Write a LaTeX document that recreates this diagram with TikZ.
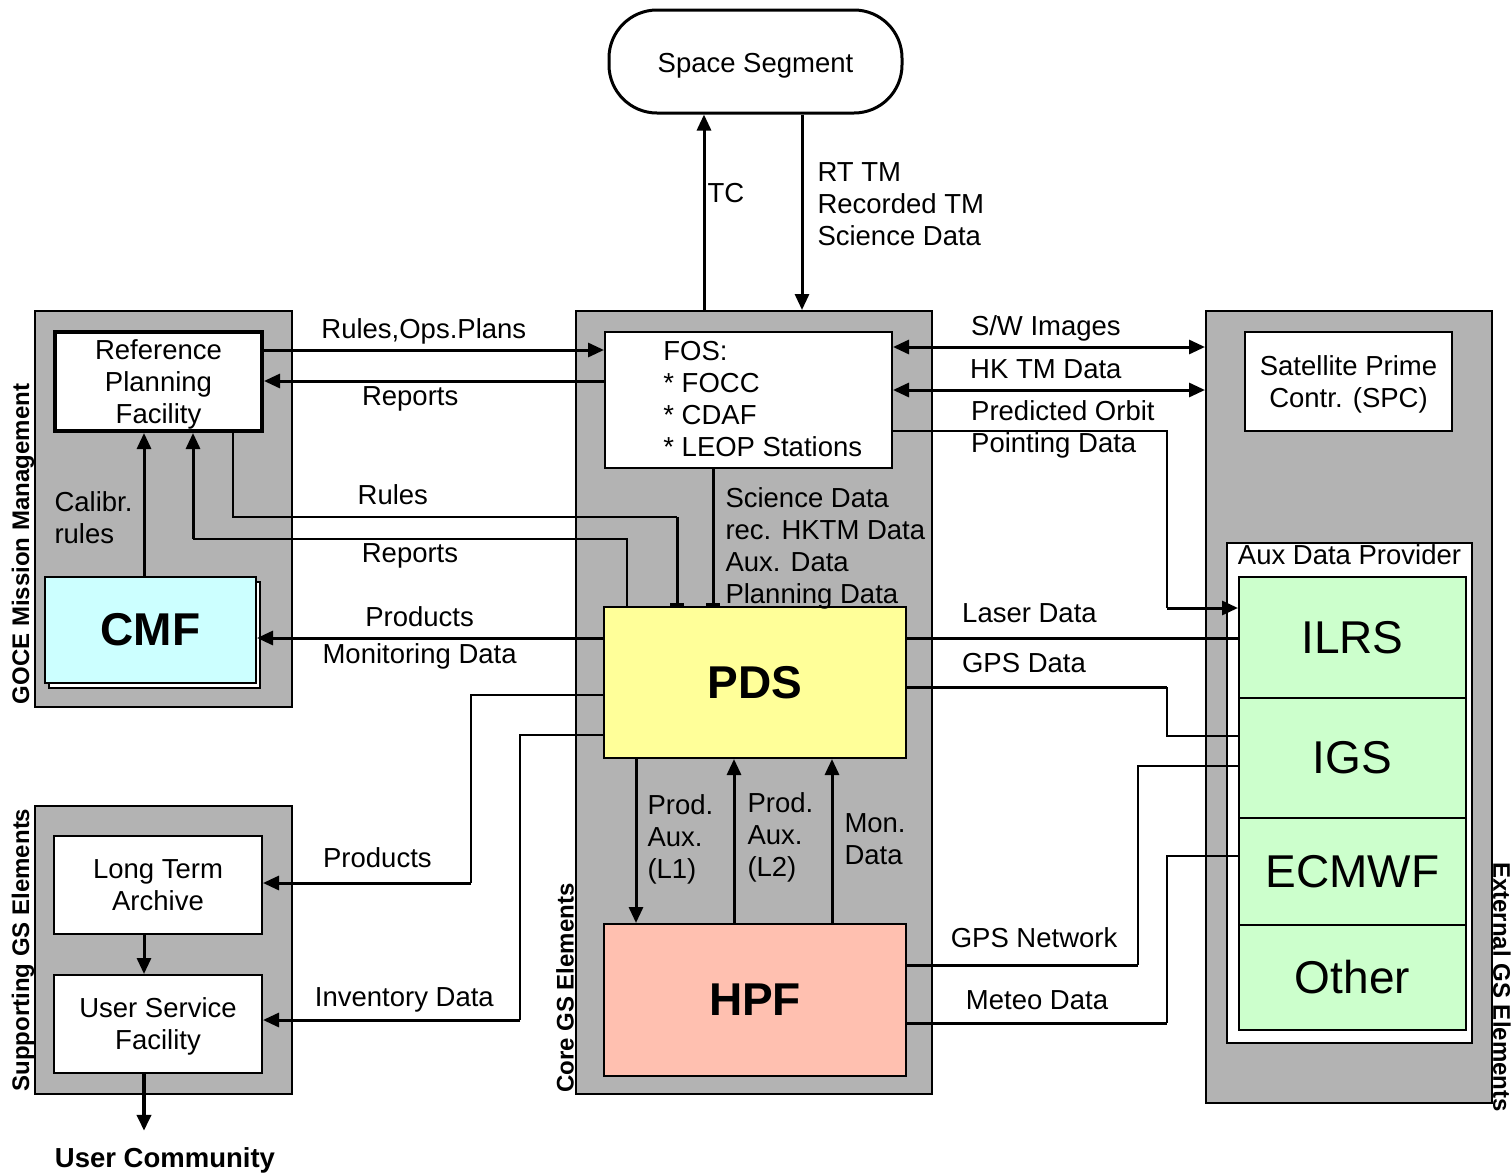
\documentclass[tikz,border=0pt]{standalone}
\usepackage{fontspec}
\setmainfont{Liberation Sans}
\usetikzlibrary{arrows.meta,shadows}
\definecolor{gsgray}{RGB}{179,179,179}
\definecolor{cmfcyan}{RGB}{204,255,255}
\definecolor{pdsyellow}{RGB}{255,255,153}
\definecolor{hpfsalmon}{RGB}{255,192,176}
\definecolor{auxgreen}{RGB}{204,255,204}
\begin{document}
\begin{tikzpicture}[x=0.5pt, y=-0.5pt, >={Triangle[length=8pt,width=7pt]},
  font=\fontsize{13.75}{16}\selectfont,
  group/.style={draw, fill=gsgray, line width=1pt, inner sep=0pt},
  group label/.style={font=\fontsize{12}{14}\selectfont\bfseries, inner sep=0pt},
  box/.style={draw, fill=white, line width=1pt, inner sep=0pt, align=center},
  big node/.style={box, font=\fontsize{23}{27}\selectfont\bfseries},
  cell/.style={draw, fill=auxgreen, line width=1pt, inner sep=0pt, minimum width=113.5pt, font=\fontsize{23}{27}\selectfont},
  flow/.style={line width=1.5pt},
  thin flow/.style={line width=0.75pt},
  lbl/.style={inner sep=1pt, align=left, text depth=4pt}]
\useasboundingbox (0,0) rectangle (1512,1173);
% groups
\node[group, minimum width=128.5pt, minimum height=198pt] (goce) at (163.5,509) {};
\node[group, minimum width=128.5pt, minimum height=144pt] (supp) at (163.5,950) {};
\node[group, minimum width=178pt, minimum height=391.5pt] (core) at (754,702.5) {};
\node[group, minimum width=143pt, minimum height=396pt] (ext) at (1349,707) {};
\node[group label, rotate=90] (gocelbl) at (23,544) {GOCE Mission Management};
\node[group label, rotate=90] (supplbl) at (23,950) {Supporting GS Elements};
\node[group label, rotate=90] (corelbl) at (565,988) {Core GS Elements};
\node[group label, rotate=-90] (extlbl) at (1502,987) {External GS Elements};
% boxes
\node[box, rounded corners=24pt, line width=1.5pt, minimum width=146.5pt, minimum height=51.5pt, text height=14pt] (space) at (755.5,61.5) {Space Segment};
\node[box, line width=2pt, minimum width=103.5pt, minimum height=49.5pt, text depth=0pt] (rpf) at (158.5,381.5) {Reference\\Planning\\Facility};
\node[big node, fill=cmfcyan, minimum width=105.5pt, minimum height=53pt,
  copy shadow={shadow xshift=2pt, shadow yshift=-2.5pt, fill=white, draw=black}] (cmf) at (150.5,630) {CMF};
\node[box, minimum width=143.5pt, minimum height=68pt] (fos) at (748.5,400) {};
\node[lbl, anchor=west, inner sep=0pt, text depth=] (fostext) at (663,399) {FOS:\\* FOCC\\* CDAF\\* LEOP Stations};
\node[big node, fill=pdsyellow, minimum width=151pt, minimum height=75.5pt] (pds) at (755,682.5) {PDS};
\node[big node, fill=hpfsalmon, minimum width=151pt, minimum height=76pt] (hpf) at (755,1000) {HPF};
\node[box, minimum width=104pt, minimum height=49pt] (lta) at (158,885) {Long Term\\Archive};
\node[box, minimum width=104pt, minimum height=49pt, text depth=0pt] (usf) at (158,1024) {User Service\\Facility};
\node[font=\fontsize{13.75}{16}\selectfont\bfseries, inner sep=1pt] (ucomm) at (165,1160) {User Community};
\node[box, minimum width=103.5pt, minimum height=49.5pt, text depth=0pt] (spc) at (1348.5,381.5) {Satellite Prime\\Contr. (SPC)};
\node[box, minimum width=122.5pt, minimum height=250pt,
  label={[lbl, anchor=north]north:Aux Data Provider}] (aux) at (1349.5,793) {};
\node[cell, minimum height=60.5pt] (ilrs) at (1352.5,637.5) {ILRS};
\node[cell, minimum height=60pt] (igs) at (1352.5,758) {IGS};
\node[cell, minimum height=53.5pt] (ecmwf) at (1352.5,871.5) {ECMWF};
\node[cell, minimum height=52.5pt] (other) at (1352.5,977.5) {Other};
% space link
\draw[flow,->] (core.north -| 704,0) -- node[lbl, right, pos=.58] {TC} (space.south -| 704,0);
\draw[flow,->] (space.south -| 802,0) -- node[lbl, right=6pt, pos=.48] {RT TM\\Recorded TM\\Science Data} (core.north -| 802,0);
% mission management
\draw[flow,->] (rpf.east |- 0,350) -- node[lbl, above, pos=.47] {Rules,Ops.Plans} (fos.west |- 0,350);
\draw[flow,->] (fos.west |- 0,381) -- node[lbl, below=1pt, pos=.57] {Reports} (rpf.east |- 0,381);
\draw[thin flow] (rpf.south -| 233,0) |- node[lbl, above, yshift=1pt, pos=.68] {Rules} (677,517);
\draw[flow,-{Bar[width=7pt]}] (677,517) -- (pds.north -| 677,0);
\draw[thin flow] (pds.north -| 627,0) |- node[lbl, below=1pt, pos=.75] {Reports} (193,539);
\draw[flow,->] (193,539) -- (rpf.south -| 193,0);
\draw[flow,->] (cmf.north -| 144,0) -- node[lbl, left=4pt, pos=.38] {Calibr.\\rules} (rpf.south -| 144,0);
\draw[flow,->] (pds.west |- 0,638) -- node[lbl, above, pos=.53] {Products} node[lbl, below=1pt, pos=.53] {Monitoring Data} (cmf.east |- 0,638);
\draw[flow,-{Bar[width=7pt]}] (fos.south -| 713,0) -- node[lbl, right=4.5pt, pos=.59] {Science Data\\rec. HKTM Data\\Aux. Data\\Planning Data} (pds.north -| 713,0);
% supporting elements
\draw[thin flow] (pds.west |- 0,695) -| (471,883);
\draw[flow,->] (471,883) -- node[lbl, above, yshift=2pt, pos=.45] {Products} (lta.east |- 0,883);
\draw[thin flow] (pds.west |- 0,735) -| (520,1020);
\draw[flow,->] (520,1020) -- node[lbl, above, yshift=1pt, pos=.45] {Inventory Data} (usf.east |- 0,1020);
\draw[flow,->] (lta.south -| 144,0) -- (usf.north -| 144,0);
\draw[line width=2pt,->,shorten >=7pt] (usf.south -| 144,0) -- (ucomm.north -| 144,0);
% core
\draw[flow,->] (pds.south -| 636,0) -- node[lbl, right=4pt, pos=.5] {Prod.\\Aux.\\(L1)} (hpf.north -| 636,0);
\draw[flow,->] (hpf.north -| 734,0) -- node[lbl, right=5pt, pos=.515] {Prod.\\Aux.\\(L2)} (pds.south -| 734,0);
\draw[flow,->] (hpf.north -| 832,0) -- node[lbl, right=4.5pt, pos=.49] {Mon.\\Data} (pds.south -| 832,0);
% external elements
\draw[flow,<->] (fos.east |- 0,347) -- node[lbl, above, pos=.49] {S/W Images} (ext.west |- 0,347);
\draw[flow,<->] (fos.east |- 0,390) -- node[lbl, above, pos=.49] {HK TM Data} (ext.west |- 0,390);
\draw[thin flow] (fos.east |- 0,431) -| node[lbl, pos=.31] {Predicted Orbit\\Pointing Data} (1167,608);
\draw[flow,->] (1167,608) -- (ilrs.west |- 0,608);
\draw[flow] (pds.east |- 0,638) -- node[lbl, above, yshift=2pt, pos=.37] {Laser Data} (ilrs.west |- 0,638);
\draw[flow] (pds.east |- 0,687) -- node[lbl, above, yshift=1.5pt, pos=.45] {GPS Data} (1167,687);
\draw[thin flow] (1167,687) |- (igs.west |- 0,736);
\draw[flow] (hpf.east |- 0,965) -- node[lbl, above, yshift=3pt, pos=.55] {GPS Network} (1138,965);
\draw[thin flow] (1138,965) |- (igs.west |- 0,766);
\draw[flow] (hpf.east |- 0,1023) -- node[lbl, above, yshift=1pt, pos=.5] {Meteo Data} (1167,1023);
\draw[thin flow] (1167,1023) |- (ecmwf.west |- 0,856);
\end{tikzpicture}
\end{document}
